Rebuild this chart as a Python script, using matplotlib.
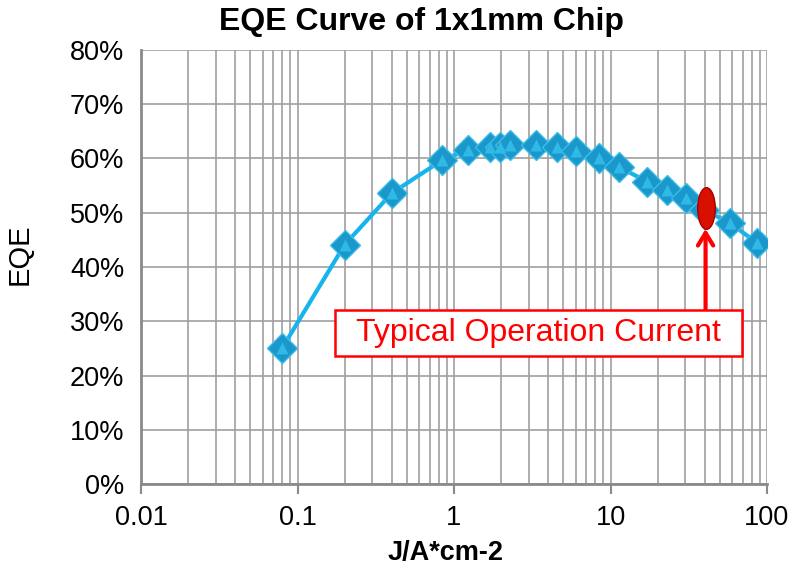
import matplotlib

matplotlib.use("Agg")

import matplotlib.pyplot as plt
from matplotlib.patches import Rectangle
from matplotlib.path import Path
from matplotlib.ticker import FuncFormatter, LogLocator, MultipleLocator
from matplotlib.transforms import Affine2D

plt.rcParams["font.family"] = ["Liberation Sans", "DejaVu Sans"]

# current density (A/cm^2) and EQE (%)
current_density = [0.08, 0.20, 0.40, 0.84, 1.23, 1.70, 1.97, 2.28, 3.34, 4.55,
                   6.0, 8.5, 11.4, 17.2, 23.0, 30.3, 39.7, 58.0, 86.8]
eqe = [25.1, 44.1, 53.6, 59.7, 61.6, 62.1, 62.1, 62.5, 62.5, 62.1,
       61.4, 60.1, 58.4, 55.7, 54.2, 52.7, 50.5, 48.1, 44.4]

operation_current = 40.5
operation_eqe = 50.8
annotation_text = "Typical Operation Current"

GRID = "#a0a0a0"
BLUE_LINE = "#16b4ec"
RED = "#ff0000"

fig = plt.figure(figsize=(7.89, 5.71), dpi=100, facecolor="white")
ax = fig.add_axes([141 / 789, 87 / 571, 626 / 789, 434 / 571])

ax.plot(current_density, eqe, color=BLUE_LINE, lw=3, zorder=3)
ax.plot(current_density, eqe, ls="none", marker="D", ms=15.5,
        mfc="#1a98cc", mec="#3cbce8", mew=1.0, zorder=4)
# lighter top facet for a bit of the bevelled look
ax.plot(current_density, eqe, ls="none", marker="^", ms=9,
        mfc="#30b8e6", mec="none", zorder=5)

ellipse = Path.unit_circle().transformed(Affine2D().scale(0.42, 1.0))
ax.plot([operation_current], [operation_eqe], ls="none", marker=ellipse,
        ms=30, mfc="#d81000", mec="#a80000", mew=1, zorder=6)

ax.annotate("", xy=(operation_current, 47.0), xytext=(operation_current, 32.0),
            arrowprops=dict(arrowstyle="->,head_length=0.9,head_width=0.55",
                            color=RED, lw=3, shrinkA=0, shrinkB=0), zorder=7)

ax.add_patch(Rectangle((0.310, 0.295), 0.650, 0.106, transform=ax.transAxes,
                       facecolor="white", edgecolor=RED, lw=1.8, zorder=8))
ax.text(0.635, 0.348, annotation_text, transform=ax.transAxes, ha="center",
        va="center", fontsize=23, color=RED, zorder=9)

ax.set_xscale("log")
ax.set_xlim(0.01, 100)
ax.set_ylim(0, 80)
ax.xaxis.set_major_locator(LogLocator(base=10, numticks=10))
ax.xaxis.set_minor_locator(LogLocator(base=10, subs=range(2, 10), numticks=10))
ax.xaxis.set_major_formatter(FuncFormatter(lambda v, _: f"{v:g}"))
ax.yaxis.set_major_locator(MultipleLocator(10))
ax.yaxis.set_major_formatter(FuncFormatter(lambda v, _: f"{v:.0f}%"))

ax.grid(which="major", color=GRID, lw=1.2)
ax.grid(which="minor", axis="x", color=GRID, lw=1.2)
ax.set_axisbelow(True)

for side in ("top", "right"):
    ax.spines[side].set_visible(False)
for side in ("left", "bottom"):
    ax.spines[side].set_color("#8a8a8a")
    ax.spines[side].set_linewidth(2)

ax.tick_params(axis="x", which="major", direction="out", length=7, width=1.5,
               color="#8a8a8a", labelsize=19.5, pad=8)
ax.tick_params(axis="x", which="minor", length=0)
ax.tick_params(axis="y", length=0, labelsize=19.5, pad=12)

ax.set_xlabel("J/A*cm-2", fontsize=19.5, fontweight="bold")
ax.xaxis.set_label_coords(0.486, -0.13)
ax.set_ylabel("EQE", fontsize=21)
ax.yaxis.set_label_coords(-0.172, 0.53)

fig.text(421 / 789, 1 - 22 / 571, "EQE Curve of 1x1mm Chip", ha="center",
         va="center", fontsize=23, fontweight="bold")

fig.savefig("out.png", dpi=100, facecolor="white")
